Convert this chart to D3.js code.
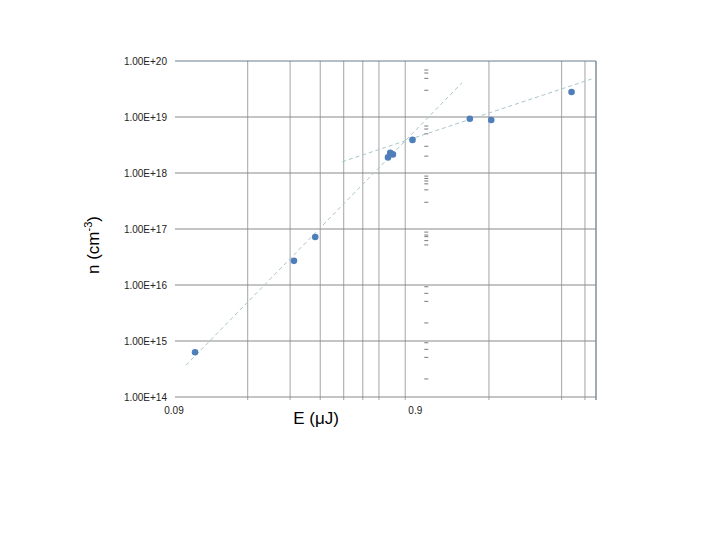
<!DOCTYPE html>
<html>
<head>
<meta charset="utf-8">
<script src="https://cdn.jsdelivr.net/npm/d3@7"></script>
<style>
  body { margin: 0; background: #fff; }
  svg { display: block; }
</style>
</head>
<body>
<svg id="chart" width="720" height="540"></svg>
<script>
// ---- data ----
const energy = [0.109, 0.280, 0.343, 0.687, 0.702, 0.72, 0.868, 1.50, 1.84, 3.96];
const density = [6.3e14, 2.7e16, 7.2e16, 1.9e18, 2.3e18, 2.15e18, 3.9e18, 9.3e18, 8.85e18, 2.8e19];
const trend1E = [0.100, 1.393];
const trend1N = [3.7e14, 4.1e19];
const trend2E = [0.444, 4.79];
const trend2N = [1.59e18, 4.77e19];
const yTicks = [1e14, 1e15, 1e16, 1e17, 1e18, 1e19, 1e20];
const yTickLabels = ["1.00E+14", "1.00E+15", "1.00E+16", "1.00E+17", "1.00E+18", "1.00E+19", "1.00E+20"];
const xTicks = [0.09, 0.9];
const xTickLabels = ["0.09", "0.9"];
const xGrid = [0.18, 0.27, 0.36, 0.45, 0.54, 0.63, 0.81, 1.8, 3.6, 4.5];
const minorTickE = 0.99;
const minorTickN = [6.9e19, 6.1e19, 4.9e19, 3.0e19, 6.9e18, 6.1e18, 5.0e18, 3.0e18, 2.0e18,
  8.8e17, 8.0e17, 7.2e17, 6.4e17, 5.0e17, 3.0e17, 8.8e16, 7.8e16, 7.3e16, 6.2e16, 5.2e16,
  9.3e15, 7.1e15, 5.1e15, 2.1e15, 9.3e14, 7.1e14, 5.1e14, 2.1e14];

// ---- layout ----
const svg = d3.select("#chart");
const mLeft = 175, mRight = 596, mTop = 61, mBottom = 397;
const x = d3.scaleLog().domain([0.09, 5.0]).range([mLeft, mRight]);
const y = d3.scaleLog().domain([1e14, 1e20]).range([mBottom, mTop]);

// vertical gridlines
svg.append("g").selectAll("line").data(xGrid).join("line")
  .attr("x1", d => x(d)).attr("x2", d => x(d))
  .attr("y1", mTop).attr("y2", mBottom + 3)
  .attr("stroke", "#b3b3b3").attr("stroke-width", 1.2);

// horizontal gridlines
svg.append("g").selectAll("line").data(yTicks).join("line")
  .attr("x1", mLeft).attr("x2", mRight)
  .attr("y1", d => y(d)).attr("y2", d => y(d))
  .attr("stroke", d => d === 1e20 ? "#6d7f91" : "#8a8a8a").attr("stroke-width", 1.2);

// right border
svg.append("line")
  .attr("x1", mRight).attr("x2", mRight).attr("y1", mTop).attr("y2", mBottom + 3)
  .attr("stroke", "#6d7f91").attr("stroke-width", 1.3);

// stray minor tick column
svg.append("g").selectAll("line").data(minorTickN).join("line")
  .attr("x1", x(minorTickE) - 2).attr("x2", x(minorTickE) + 2)
  .attr("y1", d => y(d)).attr("y2", d => y(d))
  .attr("stroke", "#7a7a7a").attr("stroke-width", 1);

// y tick labels
svg.append("g").selectAll("text").data(yTicks).join("text")
  .attr("x", mLeft - 8).attr("y", d => y(d) + 3.5)
  .attr("text-anchor", "end")
  .attr("font-family", "Liberation Sans, Arial, sans-serif")
  .attr("font-size", 10).attr("fill", "#222")
  .text((d, i) => yTickLabels[i]);

// x tick labels
svg.append("g").selectAll("text").data(xTicks).join("text")
  .attr("x", d => x(d) - 1).attr("y", mBottom + 17)
  .attr("text-anchor", "middle")
  .attr("font-family", "Liberation Sans, Arial, sans-serif")
  .attr("font-size", 10).attr("fill", "#222")
  .text((d, i) => xTickLabels[i]);

// trend lines
const line = d3.line().x(d => x(d[0])).y(d => y(d[1]));
[[trend1E, trend1N], [trend2E, trend2N]].forEach(([es, ns]) => {
  svg.append("path")
    .attr("d", line(es.map((e, i) => [e, ns[i]])))
    .attr("fill", "none").attr("stroke", "#a9c6cc")
    .attr("stroke-width", 1).attr("stroke-dasharray", "4,3");
});

// points
svg.append("g").selectAll("circle").data(energy).join("circle")
  .attr("cx", d => x(d)).attr("cy", (d, i) => y(density[i]))
  .attr("r", 3.3).attr("fill", "#4f7fbb");

// axis titles
svg.append("text")
  .attr("x", 316).attr("y", 424).attr("text-anchor", "middle")
  .attr("font-family", "Liberation Sans, Arial, sans-serif")
  .attr("font-size", 17).attr("fill", "#000")
  .text("E (\u03bcJ)");

const yt = svg.append("text")
  .attr("transform", "translate(99,245) rotate(-90)")
  .attr("text-anchor", "middle")
  .attr("font-family", "Liberation Sans, Arial, sans-serif")
  .attr("font-size", 17).attr("fill", "#000");
yt.append("tspan").text("n (cm");
yt.append("tspan").attr("font-size", 11).attr("dy", -7).text("-3");
yt.append("tspan").attr("dy", 7).text(")");
</script>
</body>
</html>
